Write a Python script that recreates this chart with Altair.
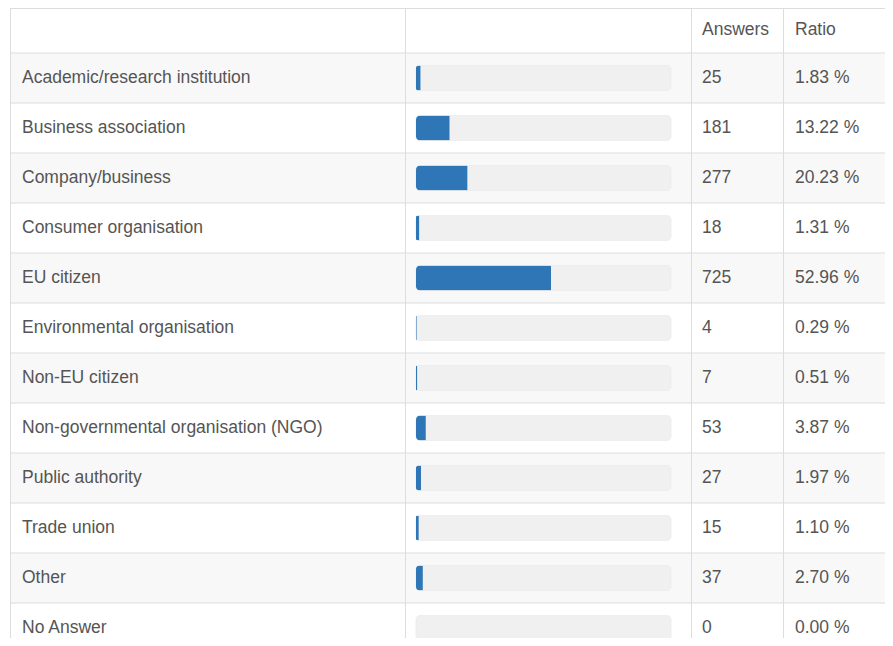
import altair as alt
import pandas as pd

categories = [
    "Academic/research institution",
    "Business association",
    "Company/business",
    "Consumer organisation",
    "EU citizen",
    "Environmental organisation",
    "Non-EU citizen",
    "Non-governmental organisation (NGO)",
    "Public authority",
    "Trade union",
    "Other",
    "No Answer",
]
answers = [25, 181, 277, 18, 725, 4, 7, 53, 27, 15, 37, 0]
ratios = [1.83, 13.22, 20.23, 1.31, 52.96, 0.29, 0.51, 3.87, 1.97, 1.10, 2.70, 0.00]
header_labels = ["Answers", "Ratio"]

df = pd.DataFrame({
    "cat": categories,
    "answers": answers,
    "ratio": ratios,
    "ratio_label": [f"{r:.2f} %" for r in ratios],
    "stripe": ["odd" if i % 2 == 0 else "even" for i in range(len(categories))],
})
one = pd.DataFrame({"d": [0]})

W, H = 877, 630
FONT = "Liberation Sans"
TXT = "#555555"
LINE = "#dddddd"

Y = alt.Y("cat:N", sort=categories,
          scale=alt.Scale(range=[45, 645], paddingInner=0, paddingOuter=0),
          axis=None)
Xs = alt.Scale(domain=[0, 100], range=[408, 663])

bg = alt.Chart(df).mark_rect().encode(
    y=Y, x=alt.value(2), x2=alt.value(W),
    color=alt.Color("stripe:N", scale=alt.Scale(domain=["odd", "even"], range=["#f8f8f8", "#ffffff"]), legend=None),
)

hlines = alt.Chart(df).mark_rule(color=LINE, strokeWidth=1).encode(
    y=alt.Y("cat:N", sort=categories, bandPosition=0,
            scale=alt.Scale(range=[45, 645], paddingInner=0, paddingOuter=0), axis=None),
    x=alt.value(2), x2=alt.value(W),
)

top_line = alt.Chart(one).mark_rule(color=LINE, strokeWidth=1).encode(
    y=alt.value(0.5), x=alt.value(2), x2=alt.value(W))

vlines = [
    alt.Chart(one).mark_rule(color=LINE, strokeWidth=1).encode(
        x=alt.value(v), y=alt.value(0), y2=alt.value(H))
    for v in [2.5, 397.5, 683.5, 775.5]
]

track = alt.Chart(df).mark_bar(size=25, cornerRadius=4, color="#f0f0f0",
                               stroke="#ebebeb", strokeWidth=0.8).encode(
    y=Y, x=alt.X(datum=0, scale=Xs, axis=None), x2=alt.X2(datum=100))

bars = alt.Chart(df).mark_bar(size=25, color="#2f76b7",
                              cornerRadiusTopLeft=4, cornerRadiusBottomLeft=4).encode(
    y=Y, x=alt.X("ratio:Q", scale=Xs, axis=None))

txt_kw = dict(align="left", baseline="middle", fontSize=17.5, font=FONT, color=TXT)

names = alt.Chart(df).mark_text(**txt_kw).encode(y=Y, x=alt.value(14), text="cat:N")
ans = alt.Chart(df).mark_text(**txt_kw).encode(y=Y, x=alt.value(694), text="answers:Q")
rat = alt.Chart(df).mark_text(**txt_kw).encode(y=Y, x=alt.value(787), text="ratio_label:N")

hdr = [
    alt.Chart(one).mark_text(text=header_labels[0], **txt_kw).encode(x=alt.value(694), y=alt.value(22)),
    alt.Chart(one).mark_text(text=header_labels[1], **txt_kw).encode(x=alt.value(787), y=alt.value(22)),
]

chart = alt.layer(bg, track, bars, hlines, top_line, *vlines, names, ans, rat, *hdr).properties(
    width=W, height=H, padding=0,
    autosize=alt.AutoSizeParams(type="none"),
    background="#ffffff",
).configure_view(strokeWidth=0)

chart.save("out.html", embed_options={"renderer": "svg", "actions": False})
